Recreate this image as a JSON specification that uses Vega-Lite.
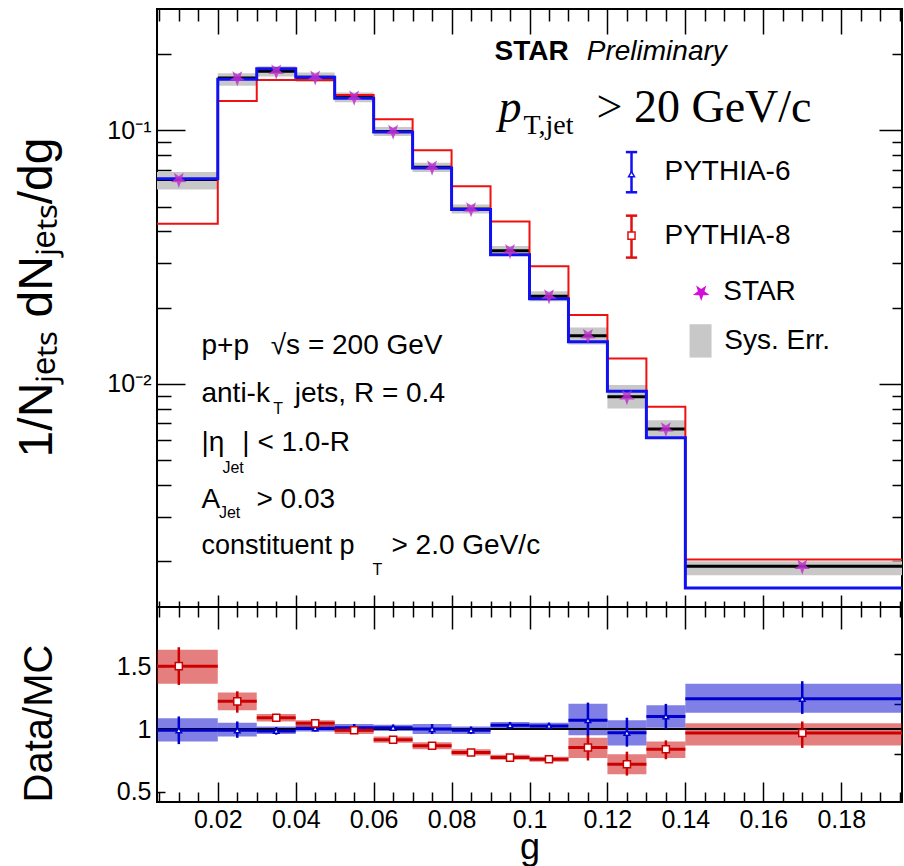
{
  "$schema": "https://vega.github.io/schema/vega-lite/v6.json",
  "background": "white",
  "padding": {"left": 12, "top": 7, "right": 0, "bottom": 0},
  "spacing": 0,
  "bounds": "flush",
  "config": {
    "view": {"stroke": "black", "strokeWidth": 2},
    "axis": {"domain": false, "grid": false, "labels": false, "tickColor": "black", "tickWidth": 1.5, "labelColor": "black", "titleColor": "black", "labelFont": "Liberation Sans", "titleFont": "Liberation Sans", "titleFontWeight": "normal", "labelFontSize": 25}
  },
  "datasets": {
    "bins": [
      {"lo": 0.0, "hi": 0.02, "c": 0.01, "p6": 0.0644, "p8": 0.0428, "star": 0.064, "sysLo": 0.0585, "sysHi": 0.0685},
      {"lo": 0.02, "hi": 0.03, "c": 0.025, "p6": 0.159, "p8": 0.1306, "star": 0.161, "sysLo": 0.150, "sysHi": 0.168},
      {"lo": 0.03, "hi": 0.04, "c": 0.035, "p6": 0.175, "p8": 0.158, "star": 0.171, "sysLo": 0.163, "sysHi": 0.179},
      {"lo": 0.04, "hi": 0.05, "c": 0.045, "p6": 0.162, "p8": 0.158, "star": 0.162, "sysLo": 0.155, "sysHi": 0.169},
      {"lo": 0.05, "hi": 0.06, "c": 0.055, "p6": 0.134, "p8": 0.138, "star": 0.135, "sysLo": 0.129, "sysHi": 0.141},
      {"lo": 0.06, "hi": 0.07, "c": 0.065, "p6": 0.0985, "p8": 0.1105, "star": 0.099, "sysLo": 0.095, "sysHi": 0.103},
      {"lo": 0.07, "hi": 0.08, "c": 0.075, "p6": 0.071, "p8": 0.0834, "star": 0.0715, "sysLo": 0.0685, "sysHi": 0.0745},
      {"lo": 0.08, "hi": 0.09, "c": 0.085, "p6": 0.0488, "p8": 0.0602, "star": 0.049, "sysLo": 0.047, "sysHi": 0.051},
      {"lo": 0.09, "hi": 0.1, "c": 0.095, "p6": 0.0323, "p8": 0.0437, "star": 0.0335, "sysLo": 0.032, "sysHi": 0.035},
      {"lo": 0.1, "hi": 0.11, "c": 0.105, "p6": 0.0217, "p8": 0.0291, "star": 0.0222, "sysLo": 0.0212, "sysHi": 0.0232},
      {"lo": 0.11, "hi": 0.12, "c": 0.115, "p6": 0.01466, "p8": 0.0187, "star": 0.0155, "sysLo": 0.0143, "sysHi": 0.0167},
      {"lo": 0.12, "hi": 0.13, "c": 0.125, "p6": 0.00937, "p8": 0.01259, "star": 0.0089, "sysLo": 0.0080, "sysHi": 0.0099},
      {"lo": 0.13, "hi": 0.14, "c": 0.135, "p6": 0.00614, "p8": 0.00813, "star": 0.00665, "sysLo": 0.0062, "sysHi": 0.0072},
      {"lo": 0.14, "hi": 0.2, "c": 0.17, "p6": 0.00157, "p8": 0.00203, "star": 0.00191, "sysLo": 0.00176, "sysHi": 0.00200}
    ],
    "steps": [
      {"g": 0.0, "p6": 0.0644, "p8": 0.0428},
      {"g": 0.02, "p6": 0.159, "p8": 0.1306},
      {"g": 0.03, "p6": 0.175, "p8": 0.158},
      {"g": 0.04, "p6": 0.162, "p8": 0.158},
      {"g": 0.05, "p6": 0.134, "p8": 0.138},
      {"g": 0.06, "p6": 0.0985, "p8": 0.1105},
      {"g": 0.07, "p6": 0.071, "p8": 0.0834},
      {"g": 0.08, "p6": 0.0488, "p8": 0.0602},
      {"g": 0.09, "p6": 0.0323, "p8": 0.0437},
      {"g": 0.1, "p6": 0.0217, "p8": 0.0291},
      {"g": 0.11, "p6": 0.01466, "p8": 0.0187},
      {"g": 0.12, "p6": 0.00937, "p8": 0.01259},
      {"g": 0.13, "p6": 0.00614, "p8": 0.00813},
      {"g": 0.14, "p6": 0.00157, "p8": 0.00203},
      {"g": 0.2, "p6": 0.00157, "p8": 0.00203}
    ],
    "ratio": [
      {"lo": 0.0, "hi": 0.02, "c": 0.01, "r6": 0.99, "e6lo": 0.88, "e6hi": 1.10, "s6lo": 0.90, "s6hi": 1.085, "r8": 1.50, "e8lo": 1.35, "e8hi": 1.65, "s8lo": 1.36, "s8hi": 1.63},
      {"lo": 0.02, "hi": 0.03, "c": 0.025, "r6": 0.99, "e6lo": 0.93, "e6hi": 1.06, "s6lo": 0.94, "s6hi": 1.05, "r8": 1.22, "e8lo": 1.13, "e8hi": 1.30, "s8lo": 1.15, "s8hi": 1.29},
      {"lo": 0.03, "hi": 0.04, "c": 0.035, "r6": 0.985, "e6lo": 0.955, "e6hi": 1.015, "s6lo": 0.96, "s6hi": 1.02, "r8": 1.09, "e8lo": 1.06, "e8hi": 1.12, "s8lo": 1.06, "s8hi": 1.12},
      {"lo": 0.04, "hi": 0.05, "c": 0.045, "r6": 1.005, "e6lo": 0.98, "e6hi": 1.03, "s6lo": 0.98, "s6hi": 1.03, "r8": 1.045, "e8lo": 1.02, "e8hi": 1.07, "s8lo": 1.015, "s8hi": 1.07},
      {"lo": 0.05, "hi": 0.06, "c": 0.055, "r6": 1.01, "e6lo": 0.98, "e6hi": 1.04, "s6lo": 0.98, "s6hi": 1.04, "r8": 0.99, "e8lo": 0.965, "e8hi": 1.015, "s8lo": 0.96, "s8hi": 1.02},
      {"lo": 0.06, "hi": 0.07, "c": 0.065, "r6": 1.01, "e6lo": 0.985, "e6hi": 1.035, "s6lo": 0.985, "s6hi": 1.035, "r8": 0.915, "e8lo": 0.89, "e8hi": 0.94, "s8lo": 0.89, "s8hi": 0.94},
      {"lo": 0.07, "hi": 0.08, "c": 0.075, "r6": 1.0, "e6lo": 0.96, "e6hi": 1.04, "s6lo": 0.96, "s6hi": 1.04, "r8": 0.867, "e8lo": 0.84, "e8hi": 0.895, "s8lo": 0.84, "s8hi": 0.895},
      {"lo": 0.08, "hi": 0.09, "c": 0.085, "r6": 0.99, "e6lo": 0.96, "e6hi": 1.02, "s6lo": 0.96, "s6hi": 1.02, "r8": 0.813, "e8lo": 0.79, "e8hi": 0.84, "s8lo": 0.79, "s8hi": 0.84},
      {"lo": 0.09, "hi": 0.1, "c": 0.095, "r6": 1.03, "e6lo": 1.005, "e6hi": 1.055, "s6lo": 1.005, "s6hi": 1.055, "r8": 0.773, "e8lo": 0.755, "e8hi": 0.795, "s8lo": 0.755, "s8hi": 0.795},
      {"lo": 0.1, "hi": 0.11, "c": 0.105, "r6": 1.025, "e6lo": 1.0, "e6hi": 1.05, "s6lo": 1.0, "s6hi": 1.05, "r8": 0.76, "e8lo": 0.74, "e8hi": 0.78, "s8lo": 0.74, "s8hi": 0.78},
      {"lo": 0.11, "hi": 0.12, "c": 0.115, "r6": 1.07, "e6lo": 0.94, "e6hi": 1.21, "s6lo": 0.95, "s6hi": 1.20, "r8": 0.853, "e8lo": 0.75, "e8hi": 0.95, "s8lo": 0.77, "s8hi": 0.93},
      {"lo": 0.12, "hi": 0.13, "c": 0.125, "r6": 0.97, "e6lo": 0.86, "e6hi": 1.09, "s6lo": 0.87, "s6hi": 1.07, "r8": 0.72, "e8lo": 0.63, "e8hi": 0.82, "s8lo": 0.64, "s8hi": 0.80},
      {"lo": 0.13, "hi": 0.14, "c": 0.135, "r6": 1.10, "e6lo": 1.0, "e6hi": 1.20, "s6lo": 1.01, "s6hi": 1.19, "r8": 0.84, "e8lo": 0.76, "e8hi": 0.91, "s8lo": 0.77, "s8hi": 0.90},
      {"lo": 0.14, "hi": 0.2, "c": 0.17, "r6": 1.24, "e6lo": 1.12, "e6hi": 1.38, "s6lo": 1.13, "s6hi": 1.36, "r8": 0.968, "e8lo": 0.85, "e8hi": 1.06, "s8lo": 0.87, "s8hi": 1.045}
    ]
  },
  "vconcat": [
    {
      "width": 745,
      "height": 598,
      "resolve": {"axis": {"x": "independent", "y": "independent"}},
      "layer": [
        {
          "data": {"name": "bins"},
          "mark": {"type": "rect", "color": "#c8c8c8", "clip": true},
          "encoding": {
            "x": {"field": "lo", "type": "quantitative", "scale": {"domain": [0.0044, 0.1956], "nice": false, "zero": false}, "axis": {"orient": "bottom", "values": [0.02, 0.04, 0.06, 0.08, 0.1, 0.12, 0.14, 0.16, 0.18], "offset": -12, "tickSize": 12, "title": null}},
            "x2": {"field": "hi"},
            "y": {"field": "sysLo", "type": "quantitative", "scale": {"type": "log", "domain": [0.00132, 0.301], "nice": false}, "axis": {"orient": "left", "values": [0.01, 0.1], "ticks": false, "labels": true, "labelPadding": 6, "labelExpr": "datum.value == 0.1 ? '10⁻¹' : '10⁻²'", "title": "1/Nⱼₑₜₛ dNⱼₑₜₛ/dg", "titleFontSize": 48, "titleAngle": 270, "titleX": -120, "titleY": 288, "titleAlign": "center", "titleBaseline": "middle"}},
            "y2": {"field": "sysHi"}
          }
        },
        {
          "data": {"name": "bins"},
          "mark": {"type": "rule", "color": "black", "strokeWidth": 3, "clip": true},
          "encoding": {
            "x": {"field": "lo", "type": "quantitative", "scale": {"domain": [0.0044, 0.1956], "nice": false, "zero": false}, "axis": {"orient": "bottom", "values": [0.005, 0.01, 0.015, 0.025, 0.03, 0.035, 0.045, 0.05, 0.055, 0.065, 0.07, 0.075, 0.085, 0.09, 0.095, 0.105, 0.11, 0.115, 0.125, 0.13, 0.135, 0.145, 0.15, 0.155, 0.165, 0.17, 0.175, 0.185, 0.19, 0.195], "offset": -6, "tickSize": 6, "title": null}},
            "x2": {"field": "hi"},
            "y": {"field": "star", "type": "quantitative", "scale": {"type": "log", "domain": [0.00132, 0.301], "nice": false}, "axis": {"orient": "left", "values": [0.01, 0.1], "offset": -28, "tickSize": 28, "title": null}}
          }
        },
        {
          "data": {"name": "steps"},
          "mark": {"type": "line", "color": "#f01010", "strokeWidth": 2, "interpolate": "step-after", "clip": true},
          "encoding": {
            "x": {"field": "g", "type": "quantitative", "scale": {"domain": [0.0044, 0.1956], "nice": false, "zero": false}, "axis": {"orient": "top", "values": [0.02, 0.04, 0.06, 0.08, 0.1, 0.12, 0.14, 0.16, 0.18], "offset": -25, "tickSize": 25, "title": null}},
            "y": {"field": "p8", "type": "quantitative", "scale": {"type": "log", "domain": [0.00132, 0.301], "nice": false}, "axis": {"orient": "left", "values": [0.002, 0.003, 0.004, 0.005, 0.006, 0.007, 0.008, 0.009, 0.02, 0.03, 0.04, 0.05, 0.06, 0.07, 0.08, 0.09, 0.2], "offset": -14, "tickSize": 14, "title": null}}
          }
        },
        {
          "data": {"name": "steps"},
          "mark": {"type": "line", "color": "#1010f0", "strokeWidth": 3, "interpolate": "step-after", "clip": true},
          "encoding": {
            "x": {"field": "g", "type": "quantitative", "scale": {"domain": [0.0044, 0.1956], "nice": false, "zero": false}, "axis": {"orient": "top", "values": [0.005, 0.01, 0.015, 0.025, 0.03, 0.035, 0.045, 0.05, 0.055, 0.065, 0.07, 0.075, 0.085, 0.09, 0.095, 0.105, 0.11, 0.115, 0.125, 0.13, 0.135, 0.145, 0.15, 0.155, 0.165, 0.17, 0.175, 0.185, 0.19, 0.195], "offset": -12, "tickSize": 12, "title": null}},
            "y": {"field": "p6", "type": "quantitative", "scale": {"type": "log", "domain": [0.00132, 0.301], "nice": false}, "axis": {"orient": "right", "values": [0.01, 0.1], "offset": -23, "tickSize": 23, "title": null}}
          }
        },
        {
          "data": {"name": "bins"},
          "mark": {"type": "point", "shape": "M0,1L-0.235,0.324L-0.951,0.309L-0.38,-0.124L-0.588,-0.809L0,-0.4L0.588,-0.809L0.38,-0.124L0.951,0.309L0.235,0.324Z", "filled": true, "color": "#c030d0", "size": 280, "opacity": 0.85},
          "encoding": {
            "x": {"field": "c", "type": "quantitative", "scale": {"domain": [0.0044, 0.1956], "nice": false, "zero": false}, "axis": null},
            "y": {"field": "star", "type": "quantitative", "scale": {"type": "log", "domain": [0.00132, 0.301], "nice": false}, "axis": {"orient": "right", "values": [0.002, 0.003, 0.004, 0.005, 0.006, 0.007, 0.008, 0.009, 0.02, 0.03, 0.04, 0.05, 0.06, 0.07, 0.08, 0.09, 0.2], "offset": -10, "tickSize": 10, "title": null}}
          }
        },
        {
          "data": {"values": [{}]},
          "mark": {"type": "text", "text": "STAR", "font": "Liberation Sans", "fontSize": 28, "fontWeight": "bold", "align": "left", "baseline": "middle", "color": "black"},
          "encoding": {"x": {"datum": 0.09102, "type": "quantitative", "axis": null}, "y": {"datum": 0.2030, "type": "quantitative", "axis": null}}
        },
        {
          "data": {"values": [{}]},
          "mark": {"type": "text", "text": "Preliminary", "font": "Liberation Sans", "fontSize": 28, "fontStyle": "italic", "align": "left", "baseline": "middle", "color": "black"},
          "encoding": {"x": {"datum": 0.1147, "type": "quantitative", "axis": null}, "y": {"datum": 0.2030, "type": "quantitative", "axis": null}}
        },
        {
          "data": {"values": [{}]},
          "mark": {"type": "text", "text": "p", "font": "Liberation Serif", "fontSize": 46, "fontStyle": "italic", "align": "left", "baseline": "alphabetic", "color": "black"},
          "encoding": {"x": {"datum": 0.09205, "type": "quantitative", "axis": null}, "y": {"datum": 0.1079, "type": "quantitative", "axis": null}}
        },
        {
          "data": {"values": [{}]},
          "mark": {"type": "text", "text": "T,jet", "font": "Liberation Serif", "fontSize": 28, "align": "left", "baseline": "alphabetic", "color": "black"},
          "encoding": {"x": {"datum": 0.09846, "type": "quantitative", "axis": null}, "y": {"datum": 0.0970, "type": "quantitative", "axis": null}}
        },
        {
          "data": {"values": [{}]},
          "mark": {"type": "text", "text": "> 20 GeV/c", "font": "Liberation Serif", "fontSize": 46, "align": "left", "baseline": "alphabetic", "color": "black"},
          "encoding": {"x": {"datum": 0.1172, "type": "quantitative", "axis": null}, "y": {"datum": 0.1079, "type": "quantitative", "axis": null}}
        },
        {
          "data": {"values": [{}]},
          "mark": {"type": "rule", "color": "#1010f0", "strokeWidth": 2.5},
          "encoding": {"x": {"datum": 0.12618, "type": "quantitative", "axis": null}, "y": {"datum": 0.0821, "type": "quantitative", "axis": null}, "y2": {"datum": 0.0570}}
        },
        {
          "data": {"values": [{}]},
          "mark": {"type": "rule", "color": "#1010f0", "strokeWidth": 2.5},
          "encoding": {"x": {"datum": 0.12473, "type": "quantitative", "axis": null}, "x2": {"datum": 0.12763}, "y": {"datum": 0.0821, "type": "quantitative", "axis": null}}
        },
        {
          "data": {"values": [{}]},
          "mark": {"type": "rule", "color": "#1010f0", "strokeWidth": 2.5},
          "encoding": {"x": {"datum": 0.12473, "type": "quantitative", "axis": null}, "x2": {"datum": 0.12763}, "y": {"datum": 0.0570, "type": "quantitative", "axis": null}}
        },
        {
          "data": {"values": [{}]},
          "mark": {"type": "point", "shape": "triangle-up", "fill": "white", "filled": true, "stroke": "#1010f0", "strokeWidth": 1.5, "size": 35, "opacity": 1},
          "encoding": {"x": {"datum": 0.12618, "type": "quantitative", "axis": null}, "y": {"datum": 0.0672, "type": "quantitative", "axis": null}}
        },
        {
          "data": {"values": [{}]},
          "mark": {"type": "rule", "color": "#e01010", "strokeWidth": 2.5},
          "encoding": {"x": {"datum": 0.12618, "type": "quantitative", "axis": null}, "y": {"datum": 0.0461, "type": "quantitative", "axis": null}, "y2": {"datum": 0.0315}}
        },
        {
          "data": {"values": [{}]},
          "mark": {"type": "rule", "color": "#e01010", "strokeWidth": 2.5},
          "encoding": {"x": {"datum": 0.12473, "type": "quantitative", "axis": null}, "x2": {"datum": 0.12763}, "y": {"datum": 0.0461, "type": "quantitative", "axis": null}}
        },
        {
          "data": {"values": [{}]},
          "mark": {"type": "rule", "color": "#e01010", "strokeWidth": 2.5},
          "encoding": {"x": {"datum": 0.12473, "type": "quantitative", "axis": null}, "x2": {"datum": 0.12763}, "y": {"datum": 0.0315, "type": "quantitative", "axis": null}}
        },
        {
          "data": {"values": [{}]},
          "mark": {"type": "point", "shape": "square", "fill": "white", "filled": true, "stroke": "#e01010", "strokeWidth": 1.5, "size": 50, "opacity": 1},
          "encoding": {"x": {"datum": 0.12618, "type": "quantitative", "axis": null}, "y": {"datum": 0.03846, "type": "quantitative", "axis": null}}
        },
        {
          "data": {"values": [{}]},
          "mark": {"type": "point", "shape": "M0,1L-0.235,0.324L-0.951,0.309L-0.38,-0.124L-0.588,-0.809L0,-0.4L0.588,-0.809L0.38,-0.124L0.951,0.309L0.235,0.324Z", "filled": true, "color": "#d010d8", "size": 300, "opacity": 1},
          "encoding": {"x": {"datum": 0.14407, "type": "quantitative", "axis": null}, "y": {"datum": 0.02296, "type": "quantitative", "axis": null}}
        },
        {
          "data": {"values": [{}]},
          "mark": {"type": "rect", "color": "#c8c8c8"},
          "encoding": {"x": {"datum": 0.14107, "type": "quantitative", "axis": null}, "x2": {"datum": 0.14672}, "y": {"datum": 0.0172, "type": "quantitative", "axis": null}, "y2": {"datum": 0.01271}}
        },
        {
          "data": {"values": [{}]},
          "mark": {"type": "text", "text": "PYTHIA-6", "font": "Liberation Sans", "fontSize": 28, "align": "left", "baseline": "middle", "color": "black"},
          "encoding": {"x": {"datum": 0.13464, "type": "quantitative", "axis": null}, "y": {"datum": 0.0684, "type": "quantitative", "axis": null}}
        },
        {
          "data": {"values": [{}]},
          "mark": {"type": "text", "text": "PYTHIA-8", "font": "Liberation Sans", "fontSize": 28, "align": "left", "baseline": "middle", "color": "black"},
          "encoding": {"x": {"datum": 0.13464, "type": "quantitative", "axis": null}, "y": {"datum": 0.03846, "type": "quantitative", "axis": null}}
        },
        {
          "data": {"values": [{}]},
          "mark": {"type": "text", "text": "STAR", "font": "Liberation Sans", "fontSize": 28, "align": "left", "baseline": "middle", "color": "black"},
          "encoding": {"x": {"datum": 0.14972, "type": "quantitative", "axis": null}, "y": {"datum": 0.02296, "type": "quantitative", "axis": null}}
        },
        {
          "data": {"values": [{}]},
          "mark": {"type": "text", "text": "Sys. Err.", "font": "Liberation Sans", "fontSize": 28, "align": "left", "baseline": "middle", "color": "black"},
          "encoding": {"x": {"datum": 0.15, "type": "quantitative", "axis": null}, "y": {"datum": 0.01483, "type": "quantitative", "axis": null}}
        },
        {
          "data": {"values": [{}]},
          "mark": {"type": "text", "text": "p+p \u2002√s = 200 GeV", "font": "Liberation Sans", "fontSize": 28, "align": "left", "baseline": "middle", "color": "black"},
          "encoding": {"x": {"datum": 0.01581, "type": "quantitative", "axis": null}, "y": {"datum": 0.01417, "type": "quantitative", "axis": null}}
        },
        {
          "data": {"values": [{}]},
          "mark": {"type": "text", "text": "anti-k", "font": "Liberation Sans", "fontSize": 28, "align": "left", "baseline": "middle", "color": "black"},
          "encoding": {"x": {"datum": 0.01581, "type": "quantitative", "axis": null}, "y": {"datum": 0.009097, "type": "quantitative", "axis": null}}
        },
        {
          "data": {"values": [{}]},
          "mark": {"type": "text", "text": "T", "font": "Liberation Sans", "fontSize": 16, "align": "left", "baseline": "middle", "color": "black"},
          "encoding": {"x": {"datum": 0.03421, "type": "quantitative", "axis": null}, "y": {"datum": 0.007987, "type": "quantitative", "axis": null}}
        },
        {
          "data": {"values": [{}]},
          "mark": {"type": "text", "text": "jets, R = 0.4", "font": "Liberation Sans", "fontSize": 28, "align": "left", "baseline": "middle", "color": "black"},
          "encoding": {"x": {"datum": 0.03976, "type": "quantitative", "axis": null}, "y": {"datum": 0.009097, "type": "quantitative", "axis": null}}
        },
        {
          "data": {"values": [{}]},
          "mark": {"type": "text", "text": "|η", "font": "Liberation Sans", "fontSize": 28, "align": "left", "baseline": "middle", "color": "black"},
          "encoding": {"x": {"datum": 0.01581, "type": "quantitative", "axis": null}, "y": {"datum": 0.005861, "type": "quantitative", "axis": null}}
        },
        {
          "data": {"values": [{}]},
          "mark": {"type": "text", "text": "Jet", "font": "Liberation Sans", "fontSize": 16, "align": "left", "baseline": "middle", "color": "black"},
          "encoding": {"x": {"datum": 0.0212, "type": "quantitative", "axis": null}, "y": {"datum": 0.004668, "type": "quantitative", "axis": null}}
        },
        {
          "data": {"values": [{}]},
          "mark": {"type": "text", "text": "| < 1.0-R", "font": "Liberation Sans", "fontSize": 28, "align": "left", "baseline": "middle", "color": "black"},
          "encoding": {"x": {"datum": 0.0263, "type": "quantitative", "axis": null}, "y": {"datum": 0.005861, "type": "quantitative", "axis": null}}
        },
        {
          "data": {"values": [{}]},
          "mark": {"type": "text", "text": "A", "font": "Liberation Sans", "fontSize": 28, "align": "left", "baseline": "middle", "color": "black"},
          "encoding": {"x": {"datum": 0.01581, "type": "quantitative", "axis": null}, "y": {"datum": 0.0035, "type": "quantitative", "axis": null}}
        },
        {
          "data": {"values": [{}]},
          "mark": {"type": "text", "text": "Jet", "font": "Liberation Sans", "fontSize": 16, "align": "left", "baseline": "middle", "color": "black"},
          "encoding": {"x": {"datum": 0.0203, "type": "quantitative", "axis": null}, "y": {"datum": 0.0031, "type": "quantitative", "axis": null}}
        },
        {
          "data": {"values": [{}]},
          "mark": {"type": "text", "text": "> 0.03", "font": "Liberation Sans", "fontSize": 28, "align": "left", "baseline": "middle", "color": "black"},
          "encoding": {"x": {"datum": 0.02993, "type": "quantitative", "axis": null}, "y": {"datum": 0.0035, "type": "quantitative", "axis": null}}
        },
        {
          "data": {"values": [{}]},
          "mark": {"type": "text", "text": "constituent p", "font": "Liberation Sans", "fontSize": 27, "align": "left", "baseline": "middle", "color": "black"},
          "encoding": {"x": {"datum": 0.01581, "type": "quantitative", "axis": null}, "y": {"datum": 0.00229, "type": "quantitative", "axis": null}}
        },
        {
          "data": {"values": [{}]},
          "mark": {"type": "text", "text": "T", "font": "Liberation Sans", "fontSize": 16, "align": "left", "baseline": "middle", "color": "black"},
          "encoding": {"x": {"datum": 0.0597, "type": "quantitative", "axis": null}, "y": {"datum": 0.00185, "type": "quantitative", "axis": null}}
        },
        {
          "data": {"values": [{}]},
          "mark": {"type": "text", "text": "> 2.0 GeV/c", "font": "Liberation Sans", "fontSize": 28, "align": "left", "baseline": "middle", "color": "black"},
          "encoding": {"x": {"datum": 0.06458, "type": "quantitative", "axis": null}, "y": {"datum": 0.00229, "type": "quantitative", "axis": null}}
        }
      ]
    },
    {
      "width": 745,
      "height": 195,
      "data": {"name": "ratio"},
      "resolve": {"axis": {"x": "independent", "y": "independent"}},
      "layer": [
        {
          "mark": {"type": "rect", "color": "#0000cc", "opacity": 0.5, "clip": true},
          "encoding": {
            "x": {"field": "lo", "type": "quantitative", "scale": {"domain": [0.0044, 0.1956], "nice": false, "zero": false}, "axis": {"orient": "bottom", "values": [0.02, 0.04, 0.06, 0.08, 0.1, 0.12, 0.14, 0.16, 0.18], "offset": -20, "tickSize": 20, "title": null}},
            "x2": {"field": "hi"},
            "y": {"field": "s6lo", "type": "quantitative", "scale": {"domain": [0.42, 1.97], "nice": false, "zero": false}, "axis": {"orient": "left", "values": [0.5, 1, 1.5], "offset": -8, "tickSize": 8, "title": null}},
            "y2": {"field": "s6hi"}
          }
        },
        {
          "mark": {"type": "rect", "color": "#cc0000", "opacity": 0.5, "clip": true},
          "encoding": {
            "x": {"field": "lo", "type": "quantitative", "scale": {"domain": [0.0044, 0.1956], "nice": false, "zero": false}, "axis": {"orient": "bottom", "values": [0.005, 0.01, 0.015, 0.025, 0.03, 0.035, 0.045, 0.05, 0.055, 0.065, 0.07, 0.075, 0.085, 0.09, 0.095, 0.105, 0.11, 0.115, 0.125, 0.13, 0.135, 0.145, 0.15, 0.155, 0.165, 0.17, 0.175, 0.185, 0.19, 0.195], "offset": -10, "tickSize": 10, "title": null}},
            "x2": {"field": "hi"},
            "y": {"field": "s8lo", "type": "quantitative", "scale": {"domain": [0.42, 1.97], "nice": false, "zero": false}, "axis": {"orient": "left", "values": [0.5, 1, 1.5], "ticks": false, "labels": true, "labelPadding": 6, "format": "~g", "title": "Data/MC", "titleFontSize": 40, "titleAngle": 270, "titleX": -118, "titleY": 116, "titleAlign": "center", "titleBaseline": "middle"}},
            "y2": {"field": "s8hi"}
          }
        },
        {
          "data": {"values": [{}]},
          "mark": {"type": "rule", "color": "black", "strokeWidth": 2},
          "encoding": {"x": {"datum": 0.0044, "type": "quantitative", "scale": {"domain": [0.0044, 0.1956], "nice": false, "zero": false}, "axis": null}, "x2": {"datum": 0.1956}, "y": {"datum": 1, "type": "quantitative", "scale": {"domain": [0.42, 1.97], "nice": false, "zero": false}, "axis": null}}
        },
        {
          "mark": {"type": "rule", "color": "#0000cc", "strokeWidth": 3, "clip": true},
          "encoding": {
            "x": {"field": "lo", "type": "quantitative", "scale": {"domain": [0.0044, 0.1956], "nice": false, "zero": false}, "axis": {"orient": "bottom", "values": [0.02, 0.04, 0.06, 0.08, 0.1, 0.12, 0.14, 0.16, 0.18], "ticks": false, "labels": true, "labelPadding": 5, "format": "~g", "title": "g", "titleFontSize": 36, "titleY": 56, "titleBaseline": "alphabetic"}},
            "x2": {"field": "hi"},
            "y": {"field": "r6", "type": "quantitative", "scale": {"domain": [0.42, 1.97], "nice": false, "zero": false}, "axis": {"orient": "right", "values": [0.8, 1.2, 1.6], "offset": -8, "tickSize": 8, "title": null}}
          }
        },
        {
          "mark": {"type": "rule", "color": "#cc0000", "strokeWidth": 3, "clip": true},
          "encoding": {
            "x": {"field": "lo", "type": "quantitative", "scale": {"domain": [0.0044, 0.1956], "nice": false, "zero": false}, "axis": {"orient": "top", "values": [0.02, 0.04, 0.06, 0.08, 0.1, 0.12, 0.14, 0.16, 0.18], "offset": -22, "tickSize": 22, "title": null}},
            "x2": {"field": "hi"},
            "y": {"field": "r8", "type": "quantitative", "scale": {"domain": [0.42, 1.97], "nice": false, "zero": false}, "axis": null}
          }
        },
        {
          "mark": {"type": "rule", "color": "#0000cc", "strokeWidth": 2.5},
          "encoding": {
            "x": {"field": "c", "type": "quantitative", "scale": {"domain": [0.0044, 0.1956], "nice": false, "zero": false}, "axis": {"orient": "top", "values": [0.005, 0.01, 0.015, 0.025, 0.03, 0.035, 0.045, 0.05, 0.055, 0.065, 0.07, 0.075, 0.085, 0.09, 0.095, 0.105, 0.11, 0.115, 0.125, 0.13, 0.135, 0.145, 0.15, 0.155, 0.165, 0.17, 0.175, 0.185, 0.19, 0.195], "offset": -10, "tickSize": 10, "title": null}},
            "y": {"field": "e6lo", "type": "quantitative", "scale": {"domain": [0.42, 1.97], "nice": false, "zero": false}, "axis": null},
            "y2": {"field": "e6hi"}
          }
        },
        {
          "mark": {"type": "rule", "color": "#cc0000", "strokeWidth": 2.5},
          "encoding": {
            "x": {"field": "c", "type": "quantitative", "scale": {"domain": [0.0044, 0.1956], "nice": false, "zero": false}, "axis": null},
            "y": {"field": "e8lo", "type": "quantitative", "scale": {"domain": [0.42, 1.97], "nice": false, "zero": false}, "axis": null},
            "y2": {"field": "e8hi"}
          }
        },
        {
          "mark": {"type": "point", "shape": "triangle-up", "fill": "white", "filled": true, "stroke": "#0000cc", "strokeWidth": 1.5, "size": 30, "opacity": 1},
          "encoding": {
            "x": {"field": "c", "type": "quantitative", "scale": {"domain": [0.0044, 0.1956], "nice": false, "zero": false}, "axis": null},
            "y": {"field": "r6", "type": "quantitative", "scale": {"domain": [0.42, 1.97], "nice": false, "zero": false}, "axis": null}
          }
        },
        {
          "mark": {"type": "point", "shape": "square", "fill": "white", "filled": true, "stroke": "#cc0000", "strokeWidth": 1.5, "size": 50, "opacity": 1},
          "encoding": {
            "x": {"field": "c", "type": "quantitative", "scale": {"domain": [0.0044, 0.1956], "nice": false, "zero": false}, "axis": null},
            "y": {"field": "r8", "type": "quantitative", "scale": {"domain": [0.42, 1.97], "nice": false, "zero": false}, "axis": null}
          }
        }
      ]
    }
  ]
}
